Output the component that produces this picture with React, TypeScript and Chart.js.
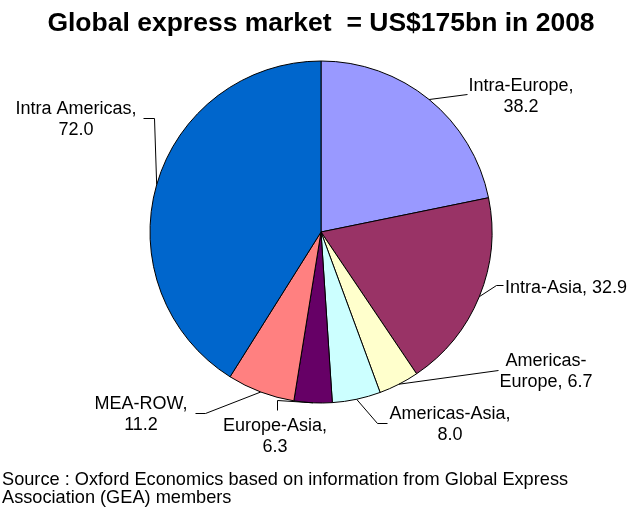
import React, { useEffect, useRef } from "react";
import { Chart, registerables } from "chart.js";

Chart.register(...registerables);

const categories = [
  "Intra-Europe",
  "Intra-Asia",
  "Americas-Europe",
  "Americas-Asia",
  "Europe-Asia",
  "MEA-ROW",
  "Intra Americas",
];
const values = [38.2, 32.9, 6.7, 8.0, 6.3, 11.2, 72.0];
const colors = ["#9999FF", "#993366", "#FFFFCC", "#CCFFFF", "#660066", "#FF8080", "#0066CC"];
const titleText = "Global express market  = US$175bn in 2008";
const sourceLines = [
  "Source : Oxford Economics based on information from Global Express",
  "Association (GEA) members",
];

// label layout: lines built from categories/values; positions only here
type LabelLayout = { split: boolean; x: number; y: number; align: CanvasTextAlign; leader: number[][] };
const labelLayout: LabelLayout[] = [
  { split: true, x: 521, y: 85, align: "center", leader: [[467, 94]] },
  { split: false, x: 505, y: 287, align: "left", leader: [[496, 285], [503, 285]] },
  { split: true, x: 546, y: 360, align: "center", leader: [[498, 370]] },
  { split: true, x: 450, y: 413, align: "center", leader: [[377, 423], [387, 423]] },
  { split: true, x: 275, y: 425, align: "center", leader: [[277, 400], [277, 410]] },
  { split: true, x: 141, y: 403, align: "center", leader: [[205, 413], [195, 413]] },
  { split: true, x: 76, y: 108, align: "center", leader: [[154, 118], [143, 118]] },
];

function labelLines(i: number): string[] {
  const name = categories[i];
  const v = values[i].toFixed(1);
  if (!labelLayout[i].split) return [`${name}, ${v}`];
  if (name === "Americas-Europe") return ["Americas-", `Europe, ${v}`];
  return [`${name},`, v];
}

const FONT = '"Liberation Sans", Arial, sans-serif';

const textPlugin = {
  id: "customText",
  afterDraw(chart: any) {
    const ctx: CanvasRenderingContext2D = chart.ctx;
    ctx.save();
    // title
    ctx.fillStyle = "#000";
    ctx.font = `bold 26.5px ${FONT}`;
    ctx.textAlign = "center";
    ctx.textBaseline = "alphabetic";
    ctx.fillText(titleText, 321, 31);

    // labels + leaders
    const meta = chart.getDatasetMeta(0);
    ctx.font = `18px ${FONT}`;
    meta.data.forEach((arc: any, i: number) => {
      const lay = labelLayout[i];
      const mid = (arc.startAngle + arc.endAngle) / 2;
      const sx = arc.x + Math.cos(mid) * arc.outerRadius;
      const sy = arc.y + Math.sin(mid) * arc.outerRadius;
      ctx.strokeStyle = "#000";
      ctx.lineWidth = 1;
      ctx.beginPath();
      ctx.moveTo(sx, sy);
      lay.leader.forEach((p) => ctx.lineTo(p[0] + 0.5, p[1] + 0.5));
      ctx.stroke();
      ctx.textAlign = lay.align;
      const lines = labelLines(i);
      lines.forEach((ln, k) => {
        ctx.fillText(ln, lay.x, lay.y + 6 + k * 21);
      });
    });

    // source
    ctx.font = `18.2px ${FONT}`;
    ctx.textAlign = "left";
    ctx.fillText(sourceLines[0], 2, 485);
    ctx.fillText(sourceLines[1], 2, 503);
    ctx.restore();
  },
};

export default function App() {
  const ref = useRef<HTMLCanvasElement>(null);
  useEffect(() => {
    if (!ref.current) return;
    const chart = new Chart(ref.current, {
      type: "pie",
      data: {
        labels: categories,
        datasets: [
          {
            data: values,
            backgroundColor: colors,
            borderColor: "#000",
            borderWidth: 1,
          },
        ],
      },
      options: {
        responsive: false,
        animation: false,
        radius: 171,
        layout: { padding: { left: 150, right: 135, top: 61, bottom: 104 } },
        plugins: {
          legend: { display: false },
          title: { display: false },
          tooltip: { enabled: false },
        },
      },
      plugins: [textPlugin],
    });
    return () => chart.destroy();
  }, []);
  return (
    <div style={{ position: "fixed", left: 0, top: 0, width: 627, height: 507, background: "#fff" }}>
      <canvas ref={ref} width={627} height={507} style={{ display: "block" }} />
    </div>
  );
}
